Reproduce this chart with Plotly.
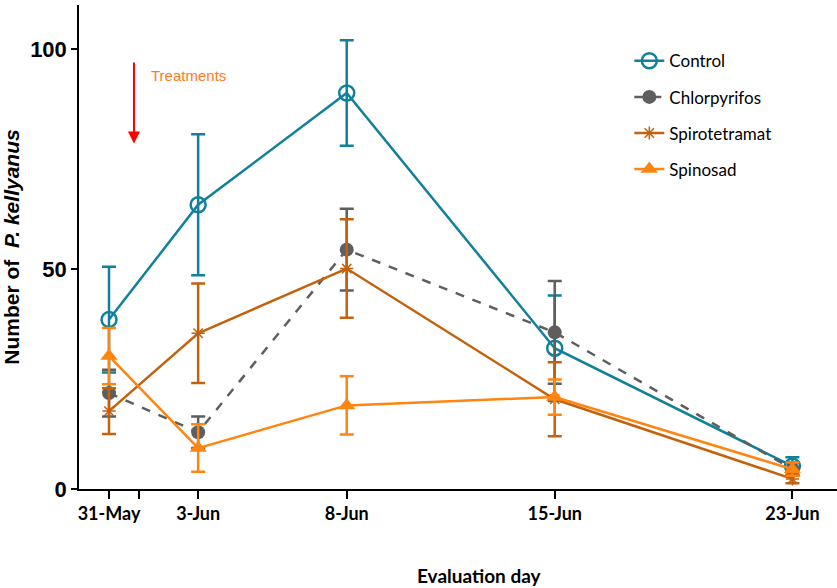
import plotly.graph_objects as go

# Evaluation days, counted from 31 May
days = [0, 3, 8, 15, 23]
day_labels = ["31-May", "3-Jun", "8-Jun", "15-Jun", "23-Jun"]
treatment_day = 1

control_mean = [38.5, 64.6, 90.0, 32.0, 5.2]
control_err = [12.0, 16.0, 12.0, 12.0, 2.0]

chlorpyrifos_mean = [21.8, 12.9, 54.4, 35.6, 4.5]
chlorpyrifos_err = [5.3, 3.6, 9.3, 11.7, 1.5]

spirotetramat_mean = [17.7, 35.4, 50.1, 20.4, 2.3]
spirotetramat_err = [5.2, 11.3, 11.2, 8.4, 1.0]

spinosad_mean = [30.2, 9.3, 19.0, 20.9, 4.5]
spinosad_err = [6.4, 5.4, 6.6, 4.0, 1.5]

TEAL = "#11809b"
GRAY = "#5e5e5e"
BROWN = "#c4610c"
ORANGE = "#ff8410"

series = [
    ("Control", control_mean, control_err, TEAL, "solid",
     dict(symbol="circle-open", size=15, line=dict(width=2.5, color=TEAL))),
    ("Chlorpyrifos", chlorpyrifos_mean, chlorpyrifos_err, GRAY, "dash",
     dict(symbol="circle", size=14, color=GRAY)),
    ("Spirotetramat", spirotetramat_mean, spirotetramat_err, BROWN, "solid",
     dict(symbol="asterisk-open", size=11, line=dict(width=1.5, color=BROWN))),
    ("Spinosad", spinosad_mean, spinosad_err, ORANGE, "solid",
     dict(symbol="triangle-up", size=15, color=ORANGE)),
]

fig = go.Figure()
for name, mean, err, color, dash, marker in series:
    fig.add_trace(go.Scatter(
        x=days, y=mean, name=name, mode="lines+markers",
        legendgroup=name,
        line=dict(color=color, width=2.5, dash=dash),
        marker=marker,
        error_y=dict(type="data", array=err, visible=True,
                     color=color, thickness=2.5, width=7),
    ))

tick_vals = [days[0], treatment_day] + days[1:]
tick_text = [day_labels[0], ""] + day_labels[1:]

fig.update_layout(
    width=837, height=588,
    margin=dict(l=79, r=0, t=5, b=99),
    paper_bgcolor="white", plot_bgcolor="white",
    showlegend=True,
    legend=dict(
        x=0.726, y=0.921, xanchor="left", yanchor="top",
        font=dict(family="Lato", size=17, color="black"),
        tracegroupgap=11, bgcolor="rgba(0,0,0,0)",
    ),
    xaxis=dict(
        range=[-1.01, 24.5], showgrid=False, zeroline=False,
        showline=True, linecolor="black", linewidth=1.5,
        ticks="outside", ticklen=8, tickwidth=1.5, tickcolor="black",
        tickvals=tick_vals, ticktext=tick_text,
        tickfont=dict(family="Lato", size=18, color="black", weight="bold"),
    ),
    yaxis=dict(
        range=[0, 110], showgrid=False, zeroline=False,
        showline=True, linecolor="black", linewidth=1.5,
        ticks="outside", ticklen=6, tickwidth=1.5, tickcolor="black",
        tickvals=[0, 50, 100],
        tickfont=dict(family="Liberation Sans Narrow, Liberation Sans", size=22,
                      color="black", weight="bold"),
        title=dict(text="Number of&nbsp;&nbsp;<i>P. kellyanus</i>",
                   font=dict(family="Liberation Sans", size=21, color="black",
                             weight="bold"),
                   standoff=16),
    ),
)

# x-axis title
fig.add_annotation(
    text="<b>Evaluation day</b>", xref="paper", yref="paper",
    x=0.528, y=-0.178, xanchor="center", yanchor="middle", showarrow=False,
    font=dict(family="Lato", size=19, color="black"),
)

# treatment application marker
fig.add_annotation(
    x=0.84, y=78.5, ax=0.84, ay=97.3, xref="x", yref="y", axref="x", ayref="y",
    showarrow=True, arrowhead=2, arrowsize=1.2, arrowwidth=2, arrowcolor="#ff0000",
    text="",
)
fig.add_annotation(
    text="Treatments", x=1.35, y=93.9, xref="x", yref="y",
    xanchor="left", yanchor="middle", showarrow=False,
    font=dict(family="Liberation Sans", size=15, color="#ff7a22"),
)

fig.write_html("out.html")
